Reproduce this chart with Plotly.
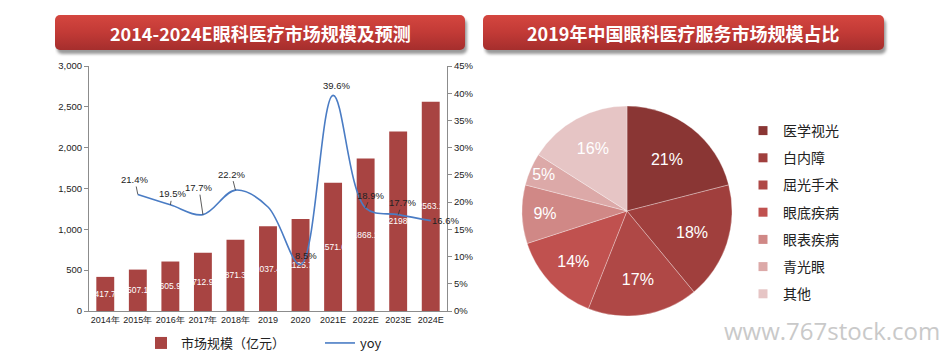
import base64
import plotly.graph_objects as go

# ---------------- data ----------------
years = ["2014年", "2015年", "2016年", "2017年", "2018年", "2019", "2020",
         "2021E", "2022E", "2023E", "2024E"]
market_size = [417.7, 507.1, 605.9, 712.9, 871.3, 1037.4, 1125.7,
               1571.6, 1868.1, 2198, 2563.1]
yoy_years = years[1:]
yoy = [21.4, 19.5, 17.7, 22.2, 19.1, 8.5, 39.6, 18.9, 17.7, 16.6]
yoy_labelled = [True, True, True, True, False, True, True, True, True, True]

pie_labels = ["医学视光", "白内障", "屈光手术", "眼底疾病", "眼表疾病", "青光眼", "其他"]
pie_values = [21, 18, 17, 14, 9, 5, 16]

title_left = "2014-2024E眼科医疗市场规模及预测"
title_right = "2019年中国眼科医疗服务市场规模占比"

# ---------------- styles ----------------
W, H = 945, 351
BAR_COLOR = "#A84442"
LINE_COLOR = "#4A7CC4"
PIE_COLORS = ["#8A3634", "#A03F3D", "#AF4846", "#C0514F", "#D08886", "#DCA9A8", "#E6C5C5"]
NARROW = "Liberation Sans Narrow, Arial Narrow, Liberation Sans, Arial, sans-serif"
CJK = "Noto Sans CJK SC, sans-serif"

# label offsets (px) for yoy annotations: (ax, ay, arrow)
yoy_offsets = [(-3, -15, True), (2, -11, True), (-4, -27, True), (-4, -16, True),
               (0, 0, False), (5, -9, False), (3, -10, False), (5, -13, True),
               (4, -12, True), (15, 0, False)]


def px_x(p):
    return p / W


def px_y(p):
    return 1 - p / H


fig = go.Figure()

fig.add_trace(go.Bar(
    x=years, y=market_size, name="市场规模（亿元）",
    marker=dict(color=BAR_COLOR, line=dict(width=0)),
    width=0.55,
    text=[f"{v:g}" for v in market_size],
    textposition="inside", insidetextanchor="middle", constraintext="none",
    textangle=0,
    textfont=dict(color="white", size=8.5, family=NARROW),
    legend="legend", showlegend=True,
))

fig.add_trace(go.Scatter(
    x=yoy_years, y=yoy, name="yoy", yaxis="y2", mode="lines",
    line=dict(color=LINE_COLOR, width=1.6, shape="spline", smoothing=1.0),
    legend="legend",
))

fig.add_trace(go.Pie(
    labels=pie_labels, values=pie_values, sort=False, direction="clockwise",
    rotation=0,
    marker=dict(colors=PIE_COLORS, line=dict(color="rgba(255,255,255,0.5)", width=0.6)),
    texttemplate="%{value}%", textposition="inside", insidetextorientation="horizontal",
    textfont=dict(color="white", size=16, family="Liberation Sans, Arial, sans-serif"),
    domain=dict(x=[px_x(522), px_x(732)], y=[px_y(316), px_y(106)]),
    showlegend=False, hoverinfo="label+percent",
))

# legend entries for pie (one group each so the spacing can be set)
for lab, col in zip(pie_labels, PIE_COLORS):
    fig.add_trace(go.Scatter(
        x=[None], y=[None], mode="markers", name=lab,
        marker=dict(symbol="square", size=9, color=col),
        legend="legend2", legendgroup=lab, showlegend=True,
    ))

annotations = []
for yr, v, lab, (ax, ay, arr) in zip(yoy_years, yoy, yoy_labelled, yoy_offsets):
    if not lab:
        continue
    annotations.append(dict(
        x=years.index(yr), y=v, xref="x", yref="y2", text=f"{v:.1f}%",
        showarrow=True, arrowhead=0, arrowwidth=0.8,
        arrowcolor="#333" if arr else "rgba(0,0,0,0)",
        ax=ax, ay=ay, standoff=0, xanchor="center", yanchor="middle",
        font=dict(size=9.5, color="#222", family=NARROW),
    ))


def banner_svg(w, h):
    svg = f'''<svg xmlns="http://www.w3.org/2000/svg" width="{w+8}" height="{h+8}">
<defs>
<linearGradient id="g" x1="0" y1="0" x2="0" y2="1">
<stop offset="0" stop-color="#D4463F"/>
<stop offset="0.5" stop-color="#C23A36"/>
<stop offset="1" stop-color="#A52E2D"/>
</linearGradient>
<filter id="s" x="-5%" y="-20%" width="110%" height="160%"><feGaussianBlur stdDeviation="1.5"/></filter>
</defs>
<rect x="2" y="4" width="{w}" height="{h}" rx="5" ry="5" fill="#9a9a9a" filter="url(#s)"/>
<rect x="0" y="0" width="{w}" height="{h}" rx="5" ry="5" fill="url(#g)"/>
</svg>'''
    return "data:image/svg+xml;base64," + base64.b64encode(svg.encode()).decode()


images = []
for (x0, x1) in [(55, 465), (483, 884)]:
    w, h = x1 - x0, 35
    images.append(dict(
        source=banner_svg(w, h), xref="paper", yref="paper",
        x=px_x(x0), y=px_y(15), sizex=(w + 8) / W, sizey=(h + 8) / H,
        xanchor="left", yanchor="top", sizing="stretch", layer="below",
    ))

annotations.append(dict(x=px_x(260), y=px_y(33), xref="paper", yref="paper",
                        xanchor="center", yanchor="middle",
                        text=f"<b>{title_left}</b>", showarrow=False,
                        font=dict(size=18, color="white", family=CJK)))
annotations.append(dict(x=px_x(683), y=px_y(33), xref="paper", yref="paper",
                        xanchor="center", yanchor="middle",
                        text=f"<b>{title_right}</b>", showarrow=False,
                        font=dict(size=18, color="white", family=CJK)))
annotations.append(dict(x=px_x(942), y=px_y(330), xref="paper", yref="paper",
                        xanchor="right", yanchor="middle",
                        text="www.767stock.com", showarrow=False,
                        font=dict(size=24, color="#C9C9C9", family="Open Sans, sans-serif")))

fig.update_layout(
    width=W, height=H, margin=dict(l=0, r=0, t=0, b=0, autoexpand=False),
    paper_bgcolor="white", plot_bgcolor="white",
    font=dict(family=NARROW, size=9, color="#222"),
    xaxis=dict(domain=[px_x(89), px_x(447)], type="category",
               categoryorder="array", categoryarray=years,
               range=[-0.5, len(years) - 0.5], autorange=False,
               showline=True, linecolor="#8c8c8c", linewidth=1,
               ticks="", showgrid=False, tickfont=dict(size=9, family=NARROW),
               automargin=False),
    yaxis=dict(domain=[px_y(311), px_y(66)], range=[0, 3000], dtick=500,
               tickformat=",", showline=True, linecolor="#8c8c8c", linewidth=1,
               ticks="outside", ticklen=4, tickcolor="#8c8c8c", showgrid=False,
               zeroline=False, tickfont=dict(size=9.5, family=NARROW),
               automargin=False),
    yaxis2=dict(overlaying="y", side="right", range=[0, 45], dtick=5,
                ticksuffix="%", showline=True, linecolor="#8c8c8c", linewidth=1,
                ticks="outside", ticklen=4, tickcolor="#8c8c8c", showgrid=False,
                zeroline=False, tickfont=dict(size=9.5, family=NARROW),
                automargin=False),
    legend=dict(orientation="h", x=px_x(141), y=px_y(343), xanchor="left",
                yanchor="middle", font=dict(size=13, family=CJK, color="#222"),
                entrywidth=134, entrywidthmode="pixels",
                bgcolor="rgba(0,0,0,0)"),
    legend2=dict(orientation="v", x=px_x(743), y=px_y(115), xanchor="left",
                 yanchor="top", font=dict(size=14, family=CJK, color="#222"),
                 tracegroupgap=6, itemwidth=30, bgcolor="rgba(0,0,0,0)"),
    annotations=annotations,
    images=images,
)

fig.write_html("out.html")
